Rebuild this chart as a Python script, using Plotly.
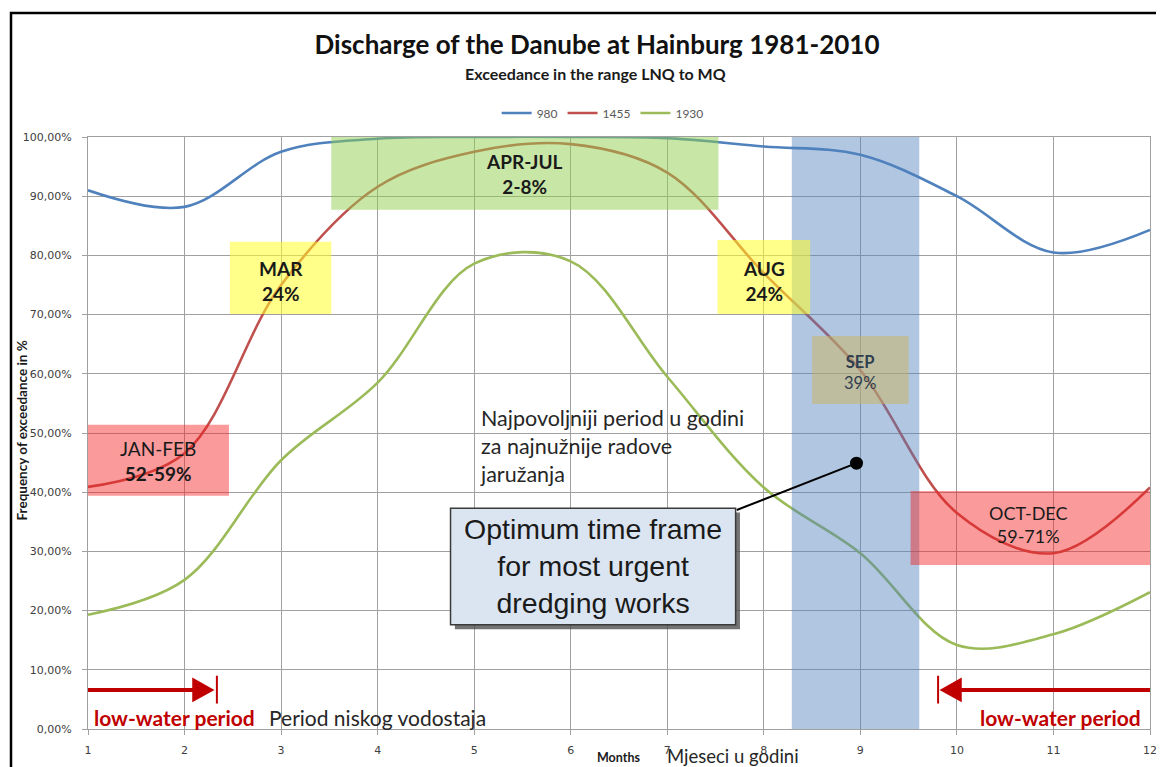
import plotly.graph_objects as go

# ---------------- data ----------------
months = [1, 2, 3, 4, 5, 6, 7, 8, 9, 10, 11, 12]
q980 = [91.0, 88.2, 97.5, 99.7, 100.0, 100.0, 99.8, 98.4, 97.0, 90.0, 80.5, 84.3]
q1455 = [40.9, 46.6, 75.0, 91.6, 97.5, 98.8, 94.0, 77.0, 60.6, 36.5, 29.7, 40.8]
q1930 = [19.3, 25.2, 45.4, 58.5, 78.6, 79.0, 59.5, 40.8, 29.7, 14.2, 16.0, 23.1]
series_names = ["980", "1455", "1930"]
series_colors = ["#4f81bd", "#c0504d", "#9bbb59"]

y_ticks = [0, 10, 20, 30, 40, 50, 60, 70, 80, 90, 100]
y_ticklabels = ["0,00%", "10,00%", "20,00%", "30,00%", "40,00%", "50,00%",
                "60,00%", "70,00%", "80,00%", "90,00%", "100,00%"]

optimum_point_x = [8.96]
optimum_point_y = [44.9]

FONT = "Lato"
W, H = 1156, 759   # page body has an 8px margin

fig = go.Figure()
for name, vals, col in zip(series_names, [q980, q1455, q1930], series_colors):
    fig.add_trace(go.Scatter(x=months, y=vals, mode="lines", name=name,
                             line=dict(color=col, width=2.6, shape="spline", smoothing=1.0)))

shapes = []
def rect(x0, x1, y0, y1, fill, line=None, layer="above"):
    d = dict(type="rect", xref="x", yref="y", x0=x0, x1=x1, y0=y0, y1=y1,
             fillcolor=fill, layer=layer, line=dict(width=0))
    if line:
        d["line"] = line
    shapes.append(d)

RED = "rgba(245,30,30,0.45)"
YEL = "rgba(255,255,40,0.55)"
GRN = "rgba(146,208,80,0.5)"
BLU = "rgba(79,129,189,0.45)"
SEPC = "rgba(205,180,95,0.5)"

rect(1.0, 2.46, 39.4, 51.4, RED)
rect(2.47, 3.52, 70.1, 82.3, YEL)
rect(3.52, 7.53, 87.7, 100.0, GRN)
rect(8.29, 9.61, 0, 100, BLU)
rect(7.52, 8.48, 70.1, 82.6, YEL)
rect(8.5, 9.5, 54.9, 66.4, SEPC)
rect(9.52, 12.0, 27.7, 40.2, RED)

# callout box with shadow
rect(4.755 + 0.045, 7.708 + 0.045, 17.6 - 0.75, 37.3 - 0.75, "rgba(70,70,70,0.75)")
rect(4.755, 7.708, 17.6, 37.3, "#dbe5f1", line=dict(color="#3a3a3a", width=1.5))
# connector line to the optimum point
shapes.append(dict(type="line", xref="x", yref="y", x0=7.72, y0=37.0,
                   x1=optimum_point_x[0], y1=optimum_point_y[0],
                   line=dict(color="black", width=2), layer="above"))
# optimum point (drawn above the blue band)
for px, py in zip(optimum_point_x, optimum_point_y):
    shapes.append(dict(type="circle", xref="x", yref="y", xsizemode="pixel", ysizemode="pixel",
                       xanchor=px, yanchor=py, x0=-6.5, x1=6.5, y0=-6.5, y1=6.5,
                       fillcolor="black", line=dict(width=0), layer="above"))

# low-water arrows
AR = "#c00000"
shapes.append(dict(type="line", xref="x", yref="y", x0=1.0, y0=6.6, x1=2.09, y1=6.6,
                   line=dict(color=AR, width=4), layer="above"))
shapes.append(dict(type="path", xref="x", yref="y",
                   path="M 2.08,8.7 L 2.31,6.6 L 2.08,4.5 Z",
                   fillcolor=AR, line=dict(width=0), layer="above"))
shapes.append(dict(type="line", xref="x", yref="y", x0=2.335, y0=4.3, x1=2.335, y1=9.0,
                   line=dict(color=AR, width=2), layer="above"))

shapes.append(dict(type="line", xref="x", yref="y", x0=10.03, y0=6.6, x1=12.0, y1=6.6,
                   line=dict(color=AR, width=4), layer="above"))
shapes.append(dict(type="path", xref="x", yref="y",
                   path="M 10.05,8.7 L 9.82,6.6 L 10.05,4.5 Z",
                   fillcolor=AR, line=dict(width=0), layer="above"))
shapes.append(dict(type="line", xref="x", yref="y", x0=9.805, y0=4.3, x1=9.805, y1=9.0,
                   line=dict(color=AR, width=2), layer="above"))

# outer black frame
shapes.append(dict(type="rect", xref="paper", yref="paper", x0=-0.0725, x1=1.03,
                   y0=-0.2, y1=1.2095, line=dict(color="black", width=2.5),
                   fillcolor="rgba(0,0,0,0)", layer="above"))

ann = []
def txt(x, y, text, size, color="#1a1a1a", family=FONT, xanchor="center", align="center",
        xref="x", yref="y", **kw):
    ann.append(dict(x=x, y=y, xref=xref, yref=yref, text=text, showarrow=False,
                    xanchor=xanchor, yanchor="middle", align=align,
                    font=dict(size=size, color=color, family=family), **kw))

txt(1.73, 45.2, "JAN-FEB<br><b>52-59%</b>", 19)
txt(2.995, 75.6, "<b>MAR<br>24%</b>", 19)
txt(5.525, 93.7, "<b>APR-JUL<br>2-8%</b>", 19)
txt(8.0, 75.6, "<b>AUG<br>24%</b>", 19)
txt(9.0, 60.3, "<b>SEP</b><br>39%", 16.5, color="#2f3f4f")
txt(10.74, 34.6, "OCT-DEC<br>59-71%", 18)
txt(5.04, 47.8, "Najpovoljniji period u godini<br>za najnužnije radove<br>jaružanja", 21.5,
    color="#262626", xanchor="left", align="left")
txt(6.23, 27.6, "Optimum time frame<br>for most urgent<br>dredging works", 28.5,
    family="Liberation Sans")
txt(1.9, 2.0, "<b>low-water period</b>", 21, color="#c00000")
txt(11.07, 2.0, "<b>low-water period</b>", 21, color="#c00000")
txt(4.0, 2.0, "Period niskog vodostaja", 21, color="#262626")

# paper-level texts
txt(0.4775, 1.108, "<b>Exceedance in the range LNQ to MQ</b>", 16, xref="paper", yref="paper")
txt(-0.0617, 0.505, "<b>Frequency of exceedance in %</b>", 13.5, xref="paper", yref="paper",
    textangle=-90)
txt(0.4995, -0.0473, "<b>Months</b>", 12.5, xref="paper", yref="paper")
txt(0.6075, -0.0455, "Mjeseci u godini", 18.5, color="#262626", xref="paper", yref="paper")

GRID = "#a0a0a0"
fig.update_layout(
    width=W, height=H,
    margin=dict(l=80, r=7, t=129, b=38),
    paper_bgcolor="white", plot_bgcolor="white",
    title=dict(text="<b>Discharge of the Danube at Hainburg 1981-2010</b>",
               x=589 / W, xanchor="center", y=1 - 37 / H, yanchor="middle",
               font=dict(size=26, color="#111111", family=FONT)),
    legend=dict(orientation="h", x=0.4846, xanchor="center", y=1.0405, yanchor="middle",
                font=dict(size=12, color="#595959", family=FONT),
                bgcolor="rgba(0,0,0,0)", itemwidth=30, tracegroupgap=0),
    shapes=shapes,
    annotations=ann,
    showlegend=True,
)
fig.update_xaxes(range=[1, 12], tickvals=months, ticktext=[str(m) for m in months],
                 showgrid=True, gridcolor=GRID, gridwidth=1, zeroline=False,
                 showline=True, linecolor=GRID, linewidth=1, mirror=True,
                 ticks="outside", ticklen=5, tickcolor=GRID, ticklabelstandoff=6,
                 tickfont=dict(size=11, color="#404040", family="DejaVu Sans"))
fig.update_yaxes(range=[0, 100], tickvals=y_ticks, ticktext=y_ticklabels,
                 showgrid=True, gridcolor=GRID, gridwidth=1, zeroline=False,
                 showline=True, linecolor=GRID, linewidth=1, mirror=True,
                 ticks="outside", ticklen=5, tickcolor=GRID, ticklabelstandoff=8,
                 tickfont=dict(size=11, color="#404040", family="DejaVu Sans"))

fig.write_html("out.html")
